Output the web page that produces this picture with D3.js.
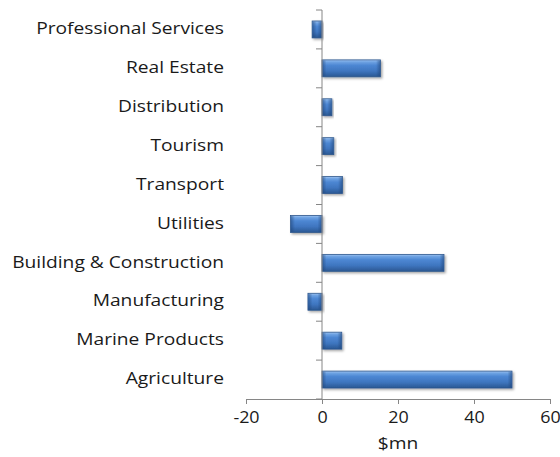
<!DOCTYPE html>
<html>
<head>
<meta charset="utf-8">
<script src="https://cdn.jsdelivr.net/npm/d3@7"></script>
<style>
  html, body { margin: 0; padding: 0; background: #fff; }
  svg { display: block; }
  text { font-family: "Open Sans", Lato, sans-serif; fill: #1a1a1a; }
</style>
</head>
<body>
<svg id="chart" width="560" height="457"></svg>
<script>
// Sector values, $mn (top to bottom as listed)
const sectors = [
  "Professional Services", "Real Estate", "Distribution", "Tourism", "Transport",
  "Utilities", "Building & Construction", "Manufacturing", "Marine Products", "Agriculture"
];
const values = [-2.6, 15.4, 2.6, 3.1, 5.4, -8.3, 32.1, -3.7, 5.2, 50.0];
const xTicks = [-20, 0, 20, 40, 60];
const xTitle = "$mn";

const svg = d3.select("#chart");
const plotLeft = 246, plotRight = 550, plotTop = 10, plotBottom = 399;
const fontSize = 15.5;
const stretch = 1.24;      // wide lettering for labels
const tickStretch = 1.12;  // keeps the last tick label inside the page

const x = d3.scaleLinear().domain([-20, 60]).range([plotLeft, plotRight]);
const y = d3.scaleBand().domain(sectors).range([plotTop, plotBottom]).paddingInner(0.565).paddingOuter(0.2825);

// Gradients for the bevelled bar look
const defs = svg.append("defs");
const vg = defs.append("linearGradient").attr("id", "barFill")
  .attr("x1", 0).attr("y1", 0).attr("x2", 0).attr("y2", 1);
[["0%", "#a3c6f2"], ["12%", "#6fa3e3"], ["32%", "#4d87d3"], ["65%", "#3f76c0"], ["100%", "#2a5893"]]
  .forEach(([o, c]) => vg.append("stop").attr("offset", o).attr("stop-color", c));

const capL = defs.append("linearGradient").attr("id", "capL").attr("x1", 0).attr("x2", 1).attr("y1", 0).attr("y2", 0);
capL.append("stop").attr("offset", "0%").attr("stop-color", "#1f4478").attr("stop-opacity", 0.55);
capL.append("stop").attr("offset", "100%").attr("stop-color", "#1f4478").attr("stop-opacity", 0);
const capR = defs.append("linearGradient").attr("id", "capR").attr("x1", 1).attr("x2", 0).attr("y1", 0).attr("y2", 0);
capR.append("stop").attr("offset", "0%").attr("stop-color", "#1f4478").attr("stop-opacity", 0.55);
capR.append("stop").attr("offset", "100%").attr("stop-color", "#1f4478").attr("stop-opacity", 0);

const shadow = defs.append("filter").attr("id", "shadow")
  .attr("x", "-20%").attr("y", "-40%").attr("width", "140%").attr("height", "190%");
shadow.append("feDropShadow").attr("dx", 1.5).attr("dy", 1.5).attr("stdDeviation", 1.2)
  .attr("flood-color", "#000").attr("flood-opacity", 0.35);

const x0 = x(0);
const barX = i => Math.min(x0, x(values[i]));
const barW = i => Math.abs(x(values[i]) - x0);
const capW = i => Math.min(4, barW(i) / 2);

// Bars
const bars = svg.append("g").selectAll("g").data(sectors).join("g");
bars.append("rect")
  .attr("x", (d, i) => barX(i))
  .attr("y", d => y(d))
  .attr("width", (d, i) => barW(i))
  .attr("height", y.bandwidth())
  .attr("fill", "url(#barFill)")
  .attr("stroke", "#2d568c")
  .attr("stroke-width", 0.8)
  .attr("filter", "url(#shadow)");
bars.append("rect")
  .attr("x", (d, i) => barX(i) + 0.5)
  .attr("y", d => y(d) + 0.5)
  .attr("width", (d, i) => capW(i))
  .attr("height", y.bandwidth() - 1)
  .attr("fill", "url(#capL)");
bars.append("rect")
  .attr("x", (d, i) => barX(i) + barW(i) - 0.5 - capW(i))
  .attr("y", d => y(d) + 0.5)
  .attr("width", (d, i) => capW(i))
  .attr("height", y.bandwidth() - 1)
  .attr("fill", "url(#capR)");

// Horizontal value axis
const xAxis = svg.append("g").attr("transform", `translate(0,${plotBottom})`)
  .call(d3.axisBottom(x).tickValues(xTicks).tickFormat(d => String(d))
    .tickSize(5).tickSizeOuter(5).tickPadding(8));
xAxis.select(".domain").attr("stroke", "#868686");
xAxis.selectAll(".tick line").attr("stroke", "#868686");
xAxis.selectAll(".tick text")
  .attr("font-size", 16)
  .attr("font-family", "'Open Sans', sans-serif")
  .attr("fill", "#1a1a1a")
  .attr("transform", `scale(${tickStretch},1)`);

// Vertical category axis at zero, with ticks on band boundaries
const axisG = svg.append("g");
axisG.append("line")
  .attr("x1", x0).attr("x2", x0).attr("y1", plotTop).attr("y2", plotBottom)
  .attr("stroke", "#868686");
const boundaries = d3.range(sectors.length + 1).map(i => plotTop + i * (plotBottom - plotTop) / sectors.length);
axisG.selectAll("line.tk").data(boundaries).join("line").attr("class", "tk")
  .attr("x1", x0 - 6).attr("x2", x0).attr("y1", d => d).attr("y2", d => d)
  .attr("stroke", "#868686");

// Category labels
svg.append("g").selectAll("text").data(sectors).join("text")
  .attr("transform", d => `translate(224,${y(d) + y.bandwidth() / 2}) scale(${stretch},1)`)
  .attr("dy", "0.3em")
  .attr("text-anchor", "end")
  .attr("font-size", fontSize)
  .text(d => d);

// Axis title
svg.append("text")
  .attr("transform", `translate(${(plotLeft + plotRight) / 2},449) scale(${stretch},1)`)
  .attr("text-anchor", "middle")
  .attr("font-size", fontSize)
  .text(xTitle);
</script>
</body>
</html>
